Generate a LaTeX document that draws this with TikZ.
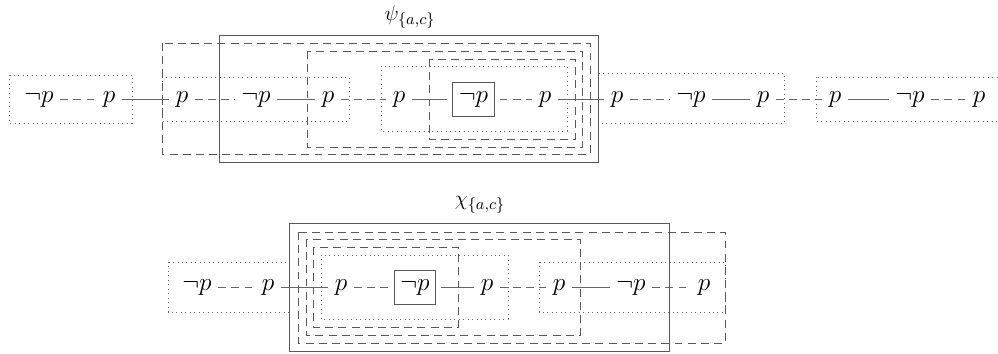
\documentclass[tikz,border=0pt]{standalone}
\usepackage{amsfonts}
\usepackage{tikz}

\begin{document}
\begin{tikzpicture}[
    x=0.02cm, y=-0.02cm,
    lit/.style={inner xsep=3.5pt, inner ysep=0pt, text height=1.5ex, text depth=0.5ex, font=\fontsize{13.5}{16}\selectfont},
    focus/.style={lit, draw=black!65, line width=0.55pt, minimum width=0.82cm, minimum height=0.68cm, outer sep=3pt},
    ttl/.style={font=\fontsize{13}{16}\selectfont},
    dotbox/.style={dotted, black!60, line width=0.55pt},
    dashbox/.style={dash pattern=on 4.5pt off 3pt, black!65, line width=0.55pt},
    solbox/.style={black!65, line width=0.55pt},
    weak/.style={dash pattern=on 4.5pt off 3pt, black!60, line width=0.55pt},
    strong/.style={black!60, line width=0.55pt}
]
\useasboundingbox (0,0) rectangle (998,354);

% Fila superior: literales
\node[lit] (t1) at (39,99) {$\neg p$};
\node[lit] (t2) at (109,99) {$p$};
\node[lit] (t3) at (182,99) {$p$};
\node[lit] (t4) at (256,99) {$\neg p$};
\node[lit] (t5) at (328,99) {$p$};
\node[lit] (t6) at (399,99) {$p$};
\node[focus] (t7) at (473.5,99) {$\neg p$};
\node[lit] (t8) at (545,99) {$p$};
\node[lit] (t9) at (617,99) {$p$};
\node[lit] (t10) at (691,99) {$\neg p$};
\node[lit] (t11) at (763,99) {$p$};
\node[lit] (t12) at (835,99) {$p$};
\node[lit] (t13) at (910,99) {$\neg p$};
\node[lit] (t14) at (979,99) {$p$};
\node[ttl] (psi) at (410,17) {$\psi_{\{a,c\}}$};

% Fila superior: cajas
\draw[dotbox] (9,75) rectangle (132,123);
\draw[dotbox] (162,77) rectangle (349,121);
\draw[dotbox] (381,66) rectangle (567,131);
\draw[dotbox] (598,73) rectangle (784,123);
\draw[dotbox] (816,77) rectangle (1004,121);
\draw[dashbox] (162,43) rectangle (590,154);
\draw[dashbox] (307,51) rectangle (582,147);
\draw[dashbox] (429,59) rectangle (575,139);
\draw[solbox] (219,35) rectangle (598,162);

% Fila superior: conexiones
\draw[weak] (t1) -- (t2);
\draw[strong] (t2) -- (t3);
\draw[weak] (t3) -- (t4);
\draw[strong] (t4) -- (t5);
\draw[weak] (t5) -- (t6);
\draw[strong] (t6) -- (t7);
\draw[weak] (t7) -- (t8);
\draw[strong] (t8) -- (t9);
\draw[weak] (t9) -- (t10);
\draw[strong] (t10) -- (t11);
\draw[weak] (t11) -- (t12);
\draw[strong] (t12) -- (t13);
\draw[weak] (t13) -- (t14);

% Fila inferior: literales
\node[lit] (b1) at (197,287) {$\neg p$};
\node[lit] (b2) at (268,287) {$p$};
\node[lit] (b3) at (341,287) {$p$};
\node[focus] (b4) at (415,287) {$\neg p$};
\node[lit] (b5) at (487,287) {$p$};
\node[lit] (b6) at (559,287) {$p$};
\node[lit] (b7) at (631,287) {$\neg p$};
\node[lit] (b8) at (704,287) {$p$};
\node[ttl] (chi) at (480,205) {$\chi_{\{a,c\}}$};

% Fila inferior: cajas
\draw[dotbox] (168,262) rectangle (289,312);
\draw[dotbox] (321,255) rectangle (508,319);
\draw[dotbox] (539,262) rectangle (725,312);
\draw[dashbox] (298,232) rectangle (725,343);
\draw[dashbox] (306,239) rectangle (580,335);
\draw[dashbox] (313,247) rectangle (458,327);
\draw[solbox] (289,223) rectangle (669,351);

% Fila inferior: conexiones
\draw[weak] (b1) -- (b2);
\draw[strong] (b2) -- (b3);
\draw[weak] (b3) -- (b4);
\draw[strong] (b4) -- (b5);
\draw[weak] (b5) -- (b6);
\draw[strong] (b6) -- (b7);
\draw[weak] (b7) -- (b8);
\end{tikzpicture}
\end{document}
